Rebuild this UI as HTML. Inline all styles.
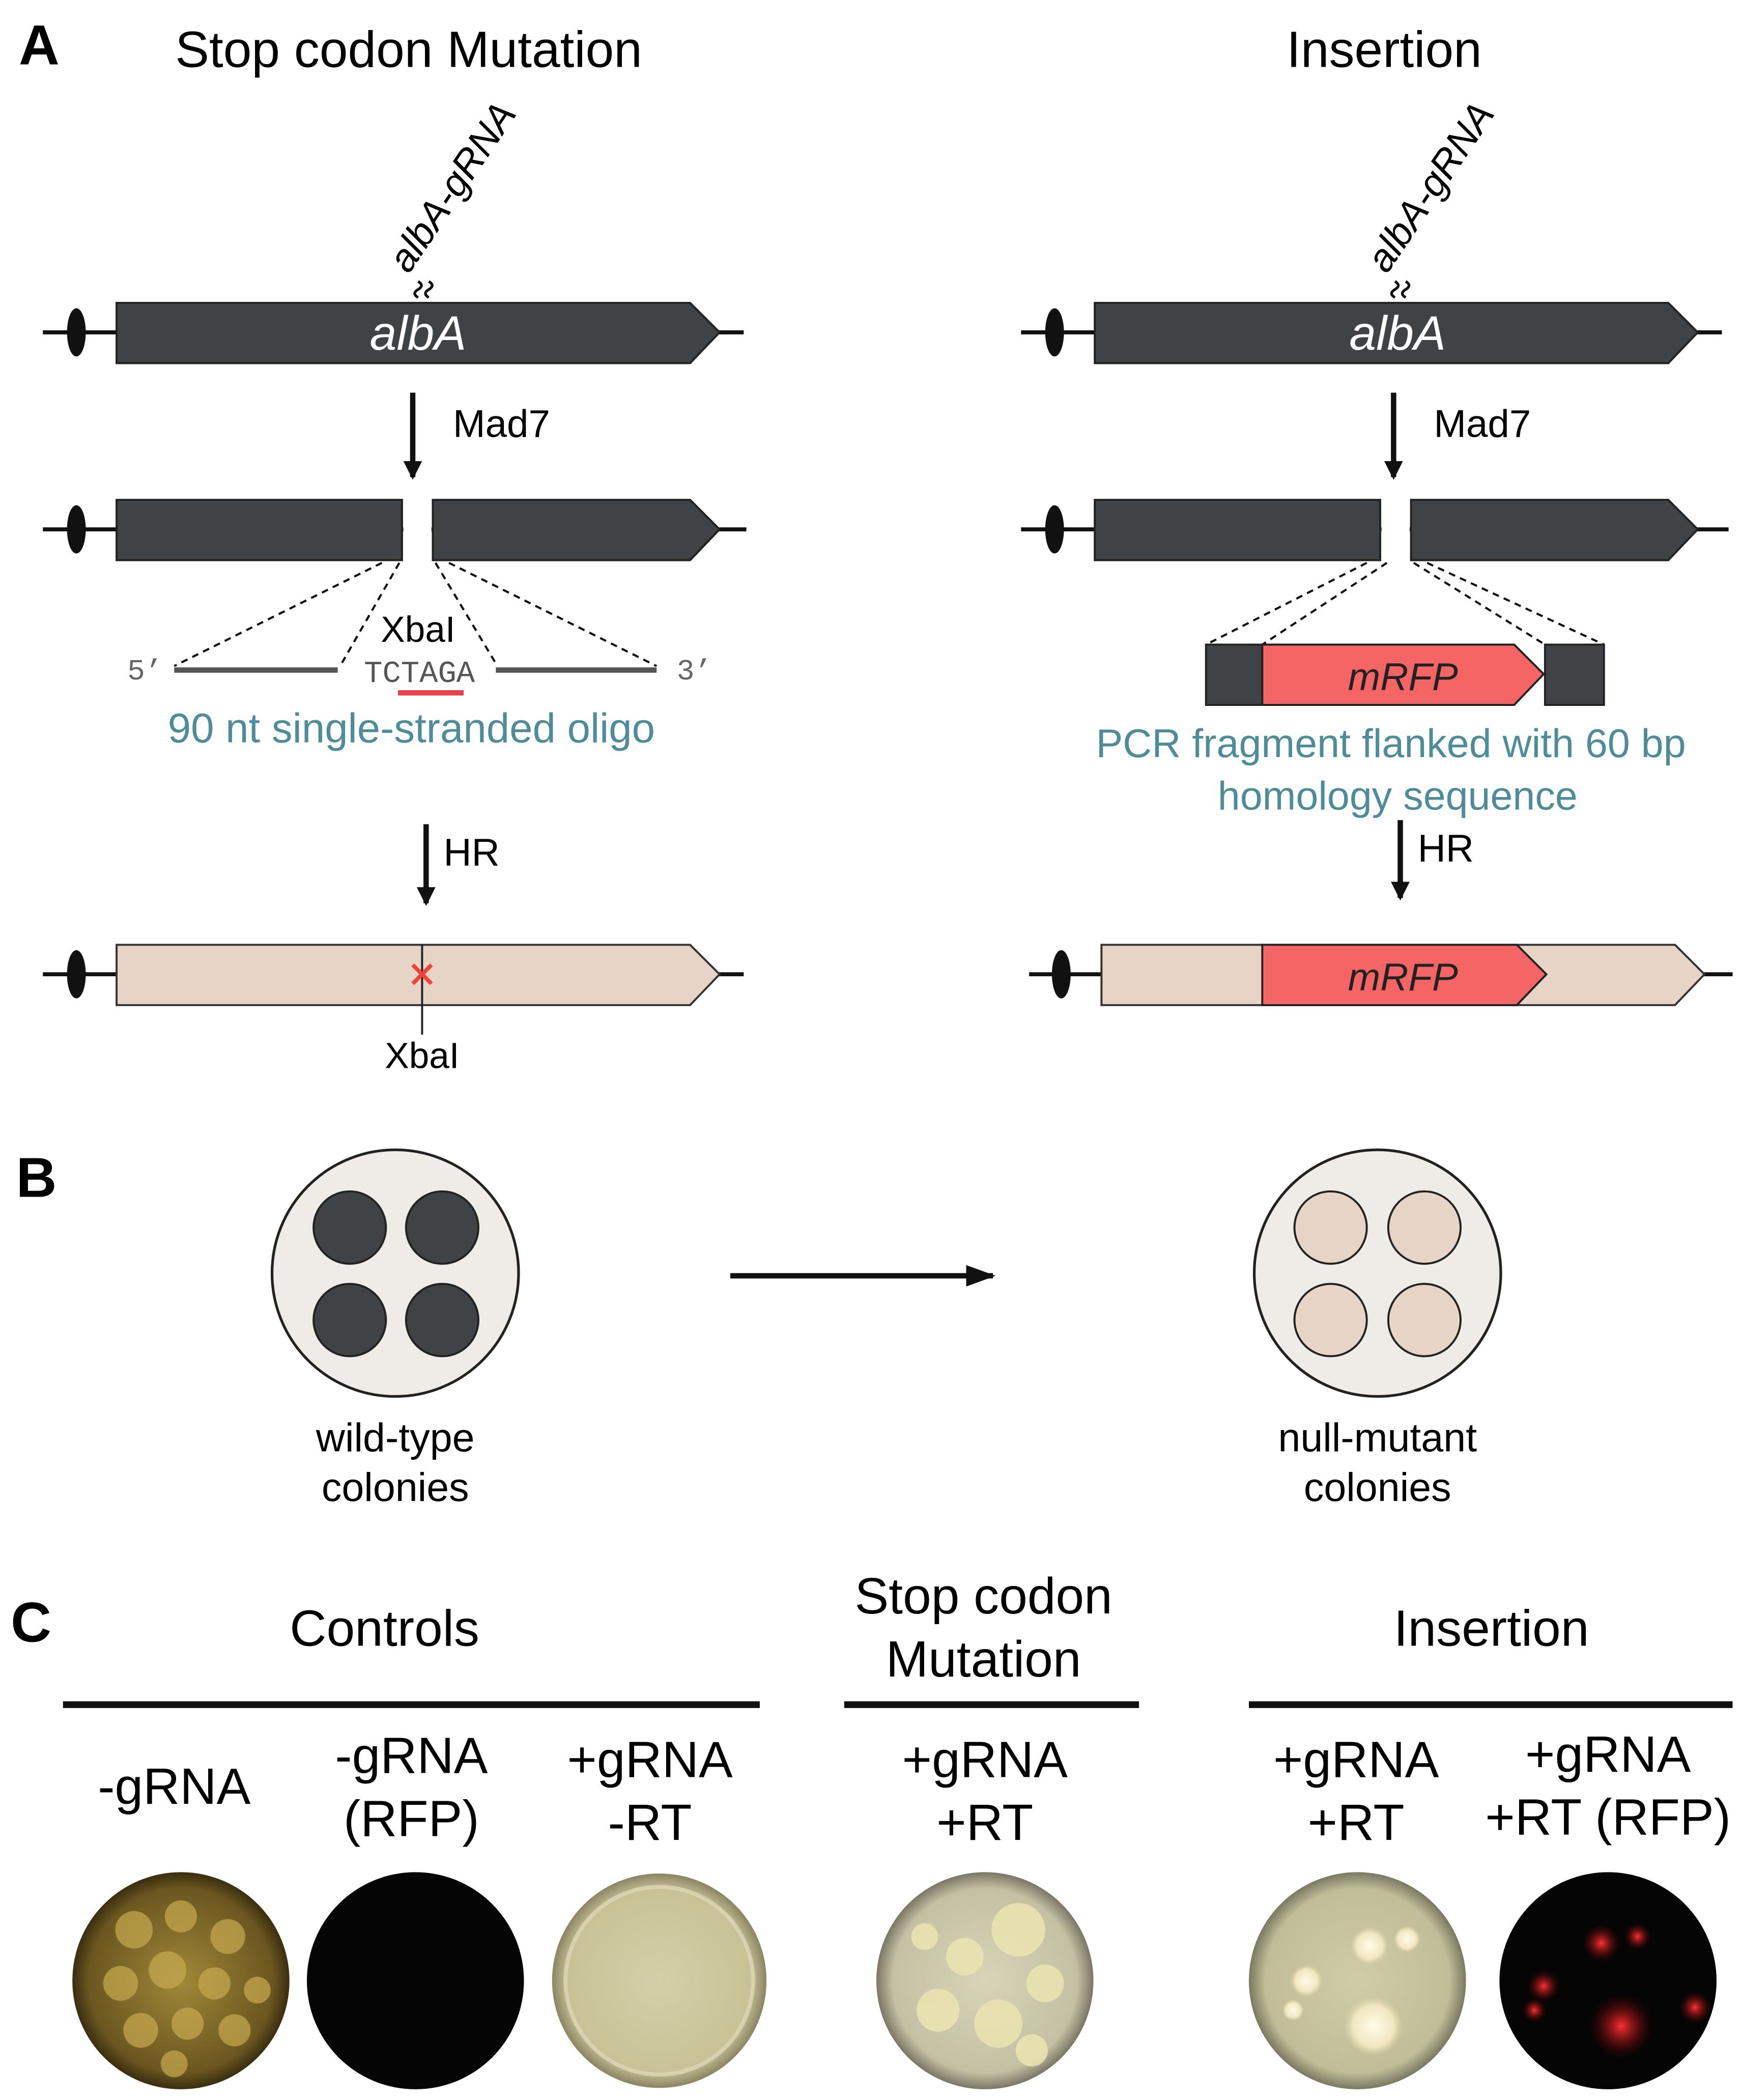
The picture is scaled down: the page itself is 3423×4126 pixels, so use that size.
<!DOCTYPE html>
<html><head><meta charset="utf-8"><style>
html,body{margin:0;padding:0;background:#fff;}
svg{display:block;}
text{font-family:"Liberation Sans",Arial,sans-serif;}
</style></head><body>
<svg width="3423" height="4126" viewBox="0 0 1300 1567" xmlns="http://www.w3.org/2000/svg">
<defs>
<marker id="ah" markerWidth="14" markerHeight="16" refX="12" refY="7" orient="auto" markerUnits="userSpaceOnUse"><path d="M0,0 L14,7 L0,14 z" fill="#111"/></marker>
<marker id="ah2" markerWidth="22" markerHeight="18" refX="20" refY="8" orient="auto" markerUnits="userSpaceOnUse"><path d="M0,0 L22,8 L0,16 z" fill="#111"/></marker>
<radialGradient id="p1" cx="50%" cy="50%" r="50%"><stop offset="0" stop-color="#a08838"/><stop offset="0.85" stop-color="#6b5620"/><stop offset="1" stop-color="#3a2e10"/></radialGradient>
<radialGradient id="p3" cx="50%" cy="50%" r="50%"><stop offset="0" stop-color="#d4cfa8"/><stop offset="0.85" stop-color="#c8c296"/><stop offset="1" stop-color="#8a8464"/></radialGradient>
<radialGradient id="p4" cx="50%" cy="50%" r="50%"><stop offset="0" stop-color="#d8d4b8"/><stop offset="0.85" stop-color="#c4c0a4"/><stop offset="1" stop-color="#7a7664"/></radialGradient>
<radialGradient id="p5" cx="50%" cy="50%" r="50%"><stop offset="0" stop-color="#cfcda8"/><stop offset="0.85" stop-color="#c0bd98"/><stop offset="1" stop-color="#7a7860"/></radialGradient>
<radialGradient id="red" cx="50%" cy="50%" r="50%"><stop offset="0" stop-color="#ff3030"/><stop offset="1" stop-color="#600" stop-opacity="0"/></radialGradient>
<radialGradient id="wc" cx="50%" cy="50%" r="50%"><stop offset="0" stop-color="#fffbe8"/><stop offset="0.7" stop-color="#f0e6c0"/><stop offset="1" stop-color="#e0d6a8" stop-opacity="0"/></radialGradient>
</defs>

<!-- Panel A -->
<text x="14" y="48" font-size="42" font-weight="bold">A</text>
<text x="305" y="50" font-size="38" text-anchor="middle">Stop codon Mutation</text>
<text x="1033" y="50" font-size="38" text-anchor="middle">Insertion</text>

<!-- left row1 -->
<line x1="32" y1="248" x2="555" y2="248" stroke="#111" stroke-width="3"/>
<ellipse cx="57" cy="248" rx="7" ry="18" fill="#111"/>
<path d="M87,226 H515 L537,248 L515,271 H87 Z" fill="#3f4346" stroke="#222" stroke-width="1.5"/>
<text x="312" y="261" font-size="36" font-style="italic" fill="#fff" text-anchor="middle">albA</text>
<text x="0" y="0" font-size="29" font-style="italic" transform="translate(305,205) rotate(-56)">albA-gRNA</text>
<path d="M312,222 q-5,-3 0,-6 q5,-3 0,-6" fill="none" stroke="#111" stroke-width="2"/>
<path d="M320,222 q-5,-3 0,-6 q5,-3 0,-6" fill="none" stroke="#111" stroke-width="2"/>

<line x1="308" y1="293" x2="308" y2="356" stroke="#111" stroke-width="4" marker-end="url(#ah)"/>
<text x="338" y="326" font-size="29">Mad7</text>

<!-- left row2 -->
<line x1="32" y1="395" x2="557" y2="395" stroke="#111" stroke-width="3"/>
<ellipse cx="57" cy="395" rx="7" ry="18" fill="#111"/>
<rect x="87" y="373" width="213" height="45" fill="#3f4346" stroke="#222" stroke-width="1.5"/>
<path d="M323,373 H515 L537,395 L515,418 H323 Z" fill="#3f4346" stroke="#222" stroke-width="1.5"/>
<rect x="301" y="385" width="21" height="20" fill="#fff"/>
<g stroke="#111" stroke-width="1.6" stroke-dasharray="5,4" fill="none">
<line x1="285" y1="420" x2="130" y2="497"/>
<line x1="298" y1="420" x2="255" y2="495"/>
<line x1="325" y1="420" x2="370" y2="495"/>
<line x1="335" y1="420" x2="490" y2="497"/>
</g>
<text x="312" y="479" font-size="27" text-anchor="middle">XbaI</text>
<text x="95" y="507" font-size="22" fill="#666" style="font-family:'Liberation Mono',monospace">5’</text>
<line x1="130" y1="500" x2="252" y2="500" stroke="#555" stroke-width="4"/>
<text x="313" y="509" font-size="23" fill="#555" text-anchor="middle" style="font-family:'Liberation Mono',monospace">TCTAGA</text>
<line x1="297" y1="517" x2="346" y2="517" stroke="#e8434a" stroke-width="4"/>
<line x1="370" y1="500" x2="490" y2="500" stroke="#555" stroke-width="4"/>
<text x="505" y="507" font-size="22" fill="#666" style="font-family:'Liberation Mono',monospace">3’</text>
<text x="307" y="554" font-size="31" fill="#4f8c9a" text-anchor="middle">90 nt single-stranded oligo</text>

<line x1="318" y1="615" x2="318" y2="674" stroke="#111" stroke-width="4" marker-end="url(#ah)"/>
<text x="331" y="646" font-size="29">HR</text>

<!-- left row3 -->
<line x1="32" y1="727" x2="555" y2="727" stroke="#111" stroke-width="3"/>
<ellipse cx="57" cy="727" rx="7" ry="18" fill="#111"/>
<path d="M87,705 H515 L537,727 L515,750 H87 Z" fill="#e6d5c6" stroke="#333" stroke-width="1.5"/>
<line x1="315" y1="705" x2="315" y2="772" stroke="#222" stroke-width="1.5"/>
<path d="M308,720 L322,734 M322,720 L308,734" stroke="#f0433a" stroke-width="3"/>
<text x="315" y="797" font-size="27" text-anchor="middle">XbaI</text>

<!-- right row1 -->
<line x1="762" y1="248" x2="1285" y2="248" stroke="#111" stroke-width="3"/>
<ellipse cx="787" cy="248" rx="7" ry="18" fill="#111"/>
<path d="M817,226 H1245 L1267,248 L1245,271 H817 Z" fill="#3f4346" stroke="#222" stroke-width="1.5"/>
<text x="1043" y="261" font-size="36" font-style="italic" fill="#fff" text-anchor="middle">albA</text>
<text x="0" y="0" font-size="29" font-style="italic" transform="translate(1035,205) rotate(-56)">albA-gRNA</text>
<path d="M1041,222 q-5,-3 0,-6 q5,-3 0,-6" fill="none" stroke="#111" stroke-width="2"/>
<path d="M1049,222 q-5,-3 0,-6 q5,-3 0,-6" fill="none" stroke="#111" stroke-width="2"/>
<line x1="1040" y1="293" x2="1040" y2="356" stroke="#111" stroke-width="4" marker-end="url(#ah)"/>
<text x="1070" y="326" font-size="29">Mad7</text>

<!-- right row2 -->
<line x1="762" y1="395" x2="1290" y2="395" stroke="#111" stroke-width="3"/>
<ellipse cx="787" cy="395" rx="7" ry="18" fill="#111"/>
<rect x="817" y="373" width="213" height="45" fill="#3f4346" stroke="#222" stroke-width="1.5"/>
<path d="M1053,373 H1245 L1267,395 L1245,418 H1053 Z" fill="#3f4346" stroke="#222" stroke-width="1.5"/>
<rect x="1031" y="385" width="21" height="20" fill="#fff"/>
<g stroke="#111" stroke-width="1.6" stroke-dasharray="5,4" fill="none">
<line x1="1020" y1="420" x2="900" y2="481"/>
<line x1="1035" y1="420" x2="942" y2="481"/>
<line x1="1055" y1="420" x2="1153" y2="481"/>
<line x1="1065" y1="420" x2="1197" y2="481"/>
</g>
<rect x="900" y="481" width="42" height="45" fill="#3f4346" stroke="#222" stroke-width="1.5"/>
<rect x="1153" y="481" width="44" height="45" fill="#3f4346" stroke="#222" stroke-width="1.5"/>
<path d="M942,481 H1130 L1152,503 L1130,526 H942 Z" fill="#f56565" stroke="#222" stroke-width="1.5"/>
<text x="1047" y="515" font-size="29" font-style="italic" fill="#222" text-anchor="middle">mRFP</text>
<text x="1038" y="565" font-size="30" fill="#4f8c9a" text-anchor="middle">PCR fragment flanked with 60 bp</text>
<text x="1043" y="604" font-size="30" fill="#4f8c9a" text-anchor="middle">homology sequence</text>
<line x1="1045" y1="612" x2="1045" y2="670" stroke="#111" stroke-width="4" marker-end="url(#ah)"/>
<text x="1058" y="643" font-size="29">HR</text>

<!-- right row3 -->
<line x1="768" y1="727" x2="1293" y2="727" stroke="#111" stroke-width="3"/>
<ellipse cx="792" cy="727" rx="7" ry="18" fill="#111"/>
<path d="M822,705 H1250 L1272,727 L1250,750 H822 Z" fill="#e6d5c6" stroke="#333" stroke-width="1.5"/>
<path d="M942,705 H1132 L1154,727 L1132,750 H942 Z" fill="#f56565" stroke="#222" stroke-width="1.5"/>
<text x="1047" y="739" font-size="29" font-style="italic" fill="#222" text-anchor="middle">mRFP</text>

<!-- Panel B -->
<text x="12" y="893" font-size="42" font-weight="bold">B</text>
<circle cx="295" cy="950" r="92" fill="#efebe6" stroke="#222" stroke-width="2"/>
<g fill="#3f4346" stroke="#222" stroke-width="1.5">
<circle cx="261" cy="916" r="27"/><circle cx="330" cy="916" r="27"/>
<circle cx="261" cy="985" r="27"/><circle cx="330" cy="985" r="27"/>
</g>
<text x="295" y="1083" font-size="30" text-anchor="middle">wild-type</text>
<text x="295" y="1120" font-size="30" text-anchor="middle">colonies</text>
<line x1="545" y1="952" x2="741" y2="952" stroke="#111" stroke-width="4" marker-end="url(#ah2)"/>
<circle cx="1028" cy="950" r="92" fill="#efebe6" stroke="#222" stroke-width="2"/>
<g fill="#e6d5c6" stroke="#222" stroke-width="1.5">
<circle cx="993" cy="916" r="27"/><circle cx="1063" cy="916" r="27"/>
<circle cx="993" cy="985" r="27"/><circle cx="1063" cy="985" r="27"/>
</g>
<text x="1028" y="1083" font-size="30" text-anchor="middle">null-mutant</text>
<text x="1028" y="1120" font-size="30" text-anchor="middle">colonies</text>

<!-- Panel C -->
<text x="8" y="1225" font-size="42" font-weight="bold">C</text>
<text x="287" y="1228" font-size="38" text-anchor="middle">Controls</text>
<text x="734" y="1204" font-size="38" text-anchor="middle">Stop codon</text>
<text x="734" y="1251" font-size="38" text-anchor="middle">Mutation</text>
<text x="1113" y="1228" font-size="38" text-anchor="middle">Insertion</text>
<g stroke="#111" stroke-width="5">
<line x1="47" y1="1272" x2="567" y2="1272"/>
<line x1="630" y1="1272" x2="850" y2="1272"/>
<line x1="932" y1="1272" x2="1293" y2="1272"/>
</g>
<g font-size="38" text-anchor="middle">
<text x="130" y="1346">-gRNA</text>
<text x="307" y="1323">-gRNA</text><text x="307" y="1370">(RFP)</text>
<text x="485" y="1326">+gRNA</text><text x="485" y="1373">-RT</text>
<text x="735" y="1326">+gRNA</text><text x="735" y="1373">+RT</text>
<text x="1012" y="1326">+gRNA</text><text x="1012" y="1373">+RT</text>
<text x="1200" y="1322">+gRNA</text><text x="1200" y="1369">+RT (RFP)</text>
</g>

<!-- plates -->
<circle cx="135" cy="1478" r="81" fill="url(#p1)"/>
<g fill="#c8aa50" opacity="0.7">
<circle cx="100" cy="1440" r="14"/><circle cx="135" cy="1430" r="12"/><circle cx="170" cy="1445" r="13"/>
<circle cx="90" cy="1480" r="13"/><circle cx="125" cy="1470" r="14"/><circle cx="160" cy="1480" r="12"/><circle cx="192" cy="1485" r="10"/>
<circle cx="105" cy="1515" r="13"/><circle cx="140" cy="1510" r="12"/><circle cx="175" cy="1515" r="12"/><circle cx="130" cy="1540" r="10"/>
</g>
<circle cx="310" cy="1478" r="81" fill="#050505"/>
<circle cx="492" cy="1478" r="80" fill="url(#p3)"/>
<circle cx="492" cy="1478" r="70" fill="none" stroke="#e6e2c4" stroke-width="3" opacity="0.6"/>
<circle cx="735" cy="1478" r="81" fill="url(#p4)"/>
<g fill="#ece4b0" opacity="0.85">
<circle cx="760" cy="1440" r="20"/><circle cx="720" cy="1460" r="14"/><circle cx="700" cy="1500" r="16"/>
<circle cx="745" cy="1510" r="18"/><circle cx="780" cy="1480" r="14"/><circle cx="770" cy="1530" r="12"/><circle cx="690" cy="1445" r="10"/>
</g>
<circle cx="1013" cy="1478" r="81" fill="url(#p5)"/>
<circle cx="1022" cy="1452" r="14" fill="url(#wc)"/>
<circle cx="1050" cy="1447" r="10" fill="url(#wc)"/>
<circle cx="1025" cy="1512" r="22" fill="url(#wc)"/>
<circle cx="975" cy="1478" r="12" fill="url(#wc)"/>
<circle cx="965" cy="1500" r="8" fill="url(#wc)"/>
<circle cx="1200" cy="1478" r="81" fill="#050505"/>
<circle cx="1210" cy="1512" r="24" fill="url(#red)"/>
<circle cx="1195" cy="1450" r="14" fill="url(#red)"/>
<circle cx="1222" cy="1445" r="10" fill="url(#red)"/>
<circle cx="1152" cy="1482" r="12" fill="url(#red)"/>
<circle cx="1145" cy="1500" r="9" fill="url(#red)"/>
<circle cx="1265" cy="1498" r="12" fill="url(#red)"/>
</svg>
</body></html>
